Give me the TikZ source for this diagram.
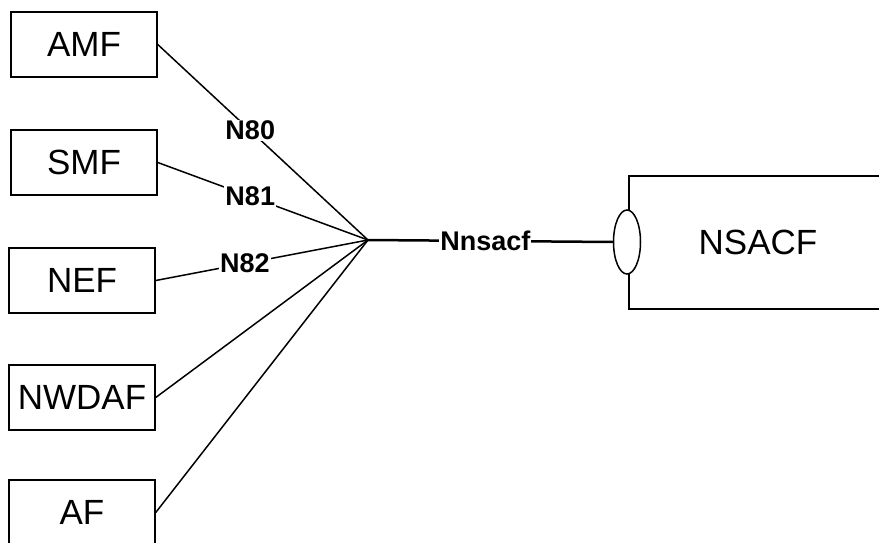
\documentclass[tikz,border=0pt]{standalone}
\usepackage{fontspec}
\setmainfont{Liberation Sans}
\usetikzlibrary{shapes.geometric}
\begin{document}
\begin{tikzpicture}[x=1pt,y=-1pt,
  nfbox/.style={draw,line width=1.5pt,minimum width=146pt,minimum height=65pt,inner sep=0pt,font=\fontsize{35}{40}\selectfont},
  conn/.style={line width=1.5pt},
  lbl/.style={fill=white,inner sep=1pt,font=\bfseries\fontsize{27}{30}\selectfont}]
\useasboundingbox (0,0) rectangle (879,543);
\node[nfbox] (amf) at (84,44.5) {AMF};
\node[nfbox] (smf) at (84,162.5) {SMF};
\node[nfbox] (nef) at (82,280.5) {NEF};
\node[nfbox] (nwdaf) at (82,397.5) {NWDAF};
\node[nfbox] (af) at (82,512.5) {AF};
\coordinate (hub) at (368,240);
\node[draw,line width=1.5pt,minimum width=258pt,minimum height=133pt,inner sep=0pt,font=\fontsize{35}{40}\selectfont] (nsacf) at (758,242.5) {NSACF};
\node[draw,ellipse,fill=white,line width=1.5pt,minimum width=27pt,minimum height=64pt,inner sep=0pt] (ep) at (627,242) {};
\draw[conn] (amf.east) -- node[lbl,pos=0.44] {N80} (hub);
\draw[conn] (smf.east) -- node[lbl,pos=0.44] {N81} (hub);
\draw[conn] (nef.east) -- node[lbl,pos=0.42] {N82} (hub);
\draw[conn] (nwdaf.east) -- (hub);
\draw[conn] (af.east) -- (hub);
\draw[line width=2.5pt] (hub) -- node[lbl,pos=0.48] {Nnsacf} (ep.west);
\end{tikzpicture}
\end{document}
